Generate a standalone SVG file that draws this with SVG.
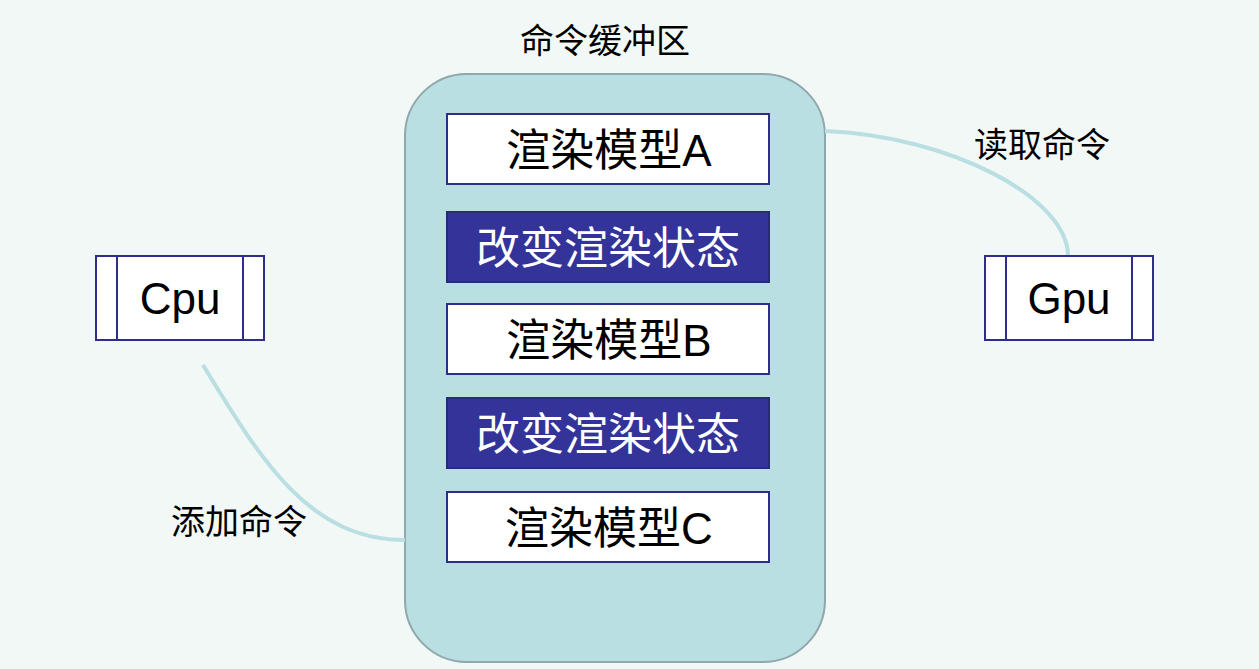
<svg xmlns="http://www.w3.org/2000/svg" width="1259" height="669" viewBox="0 0 1259 669">
<style>
.cjk{font-family:"Noto Sans CJK SC","Noto Sans",sans-serif;}
.lbl{font-size:34px;fill:#000;}
.box{fill:#fff;stroke:#2E2E8A;stroke-width:2;}
.dark{fill:#333399;stroke:#2A2A7A;stroke-width:2;}
.bt{font-size:44px;text-anchor:middle;}
.lat{font-family:"Liberation Sans",Arial,sans-serif;font-size:44px;text-anchor:middle;fill:#000;}
.conn{fill:none;stroke:#B9DFE3;stroke-width:4;}
.edge{stroke:#2E2E8A;stroke-width:2;}
</style>
<rect width="1259" height="669" fill="#F2F8F6"/>
<g id="buffer">
<rect x="405" y="74" width="420" height="588" rx="62" ry="62" fill="#B9DFE3" stroke="#8FA8AC" stroke-width="2"/>
<text class="cjk lbl" x="605" y="53" text-anchor="middle">命令缓冲区</text>
</g>
<g id="connectors">
<path class="conn" d="M203,365 C262,462 310,540 405,540"/>
<path class="conn" d="M825,131 C950,136 1068,198 1068,256"/>
</g>
<g id="modelA">
<rect class="box" x="447" y="114" width="322" height="70"/>
<text class="cjk bt" x="609" y="166" fill="#000">渲染模型<tspan font-family="Liberation Sans, Arial, sans-serif">A</tspan></text>
</g>
<g id="state1">
<rect class="dark" x="447" y="212" width="322" height="70"/>
<text class="cjk bt" x="608" y="264" fill="#fff">改变渲染状态</text>
</g>
<g id="modelB">
<rect class="box" x="447" y="304" width="322" height="70"/>
<text class="cjk bt" x="609" y="356" fill="#000">渲染模型<tspan font-family="Liberation Sans, Arial, sans-serif">B</tspan></text>
</g>
<g id="state2">
<rect class="dark" x="447" y="398" width="322" height="70"/>
<text class="cjk bt" x="608" y="450" fill="#fff">改变渲染状态</text>
</g>
<g id="modelC">
<rect class="box" x="447" y="492" width="322" height="70"/>
<text class="cjk bt" x="609" y="544" fill="#000">渲染模型<tspan font-family="Liberation Sans, Arial, sans-serif">C</tspan></text>
</g>
<g id="cpu">
<rect class="box" x="96" y="256" width="168" height="84"/>
<line class="edge" x1="117" y1="256" x2="117" y2="340"/>
<line class="edge" x1="243" y1="256" x2="243" y2="340"/>
<text class="lat" x="180" y="314">Cpu</text>
</g>
<g id="gpu">
<rect class="box" x="985" y="256" width="168" height="84"/>
<line class="edge" x1="1006" y1="256" x2="1006" y2="340"/>
<line class="edge" x1="1132" y1="256" x2="1132" y2="340"/>
<text class="lat" x="1069" y="314">Gpu</text>
</g>
<text class="cjk lbl" x="1042" y="157" text-anchor="middle">读取命令</text>
<text class="cjk lbl" x="239" y="534" text-anchor="middle">添加命令</text>
</svg>
